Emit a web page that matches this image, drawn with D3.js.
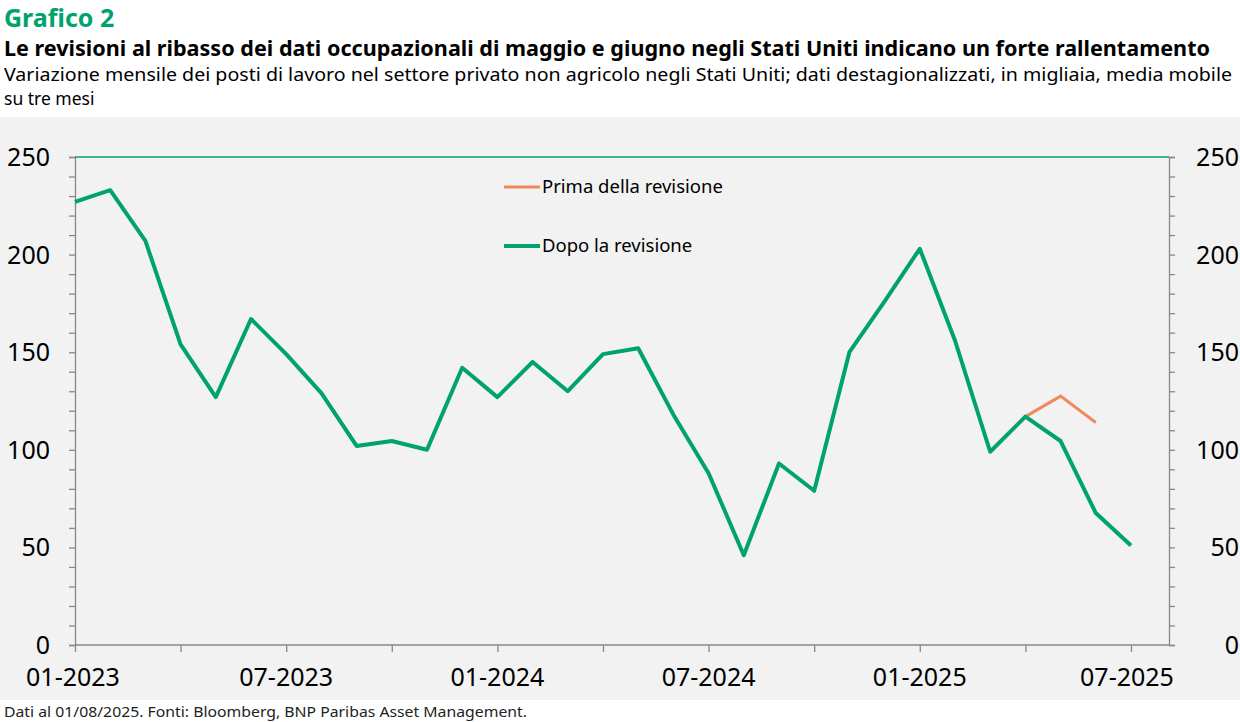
<!DOCTYPE html>
<html><head><meta charset="utf-8">
<script src="https://cdn.jsdelivr.net/npm/d3@7"></script>
<style>body{margin:0;background:#fff;font-family:"Noto Sans",sans-serif}</style>
</head><body><svg id="c" width="1240" height="722"></svg>
<script>
const months = d3.range(31); // 0 = 01-2023 ... 30 = 07-2025
const dopo = [227,233,207,154,127,167,149,129,102,104.5,100,142,127,145,130,149,152,118,88,46,93,79,150,176,203,156,99,117,104.5,67.6,51];
const primaIdx = [27,28,29];
const prima = [117,127.5,114];
const xTicks = [0,6,12,18,24,30];
const xLabels = ["01-2023","07-2023","01-2024","07-2024","01-2025","07-2025"];
const yTicks = [0,50,100,150,200,250];

const svg = d3.select("#c");
const L = 75, R = 1169, T = 157, B = 645;
const green = "#00a36c", orange = "#f08a5d";

svg.append("rect").attr("x",0).attr("y",117).attr("width",1240).attr("height",583).attr("fill","#f2f2f2");

const x = d3.scaleLinear().domain([0,31.08]).range([L,R]);
const y = d3.scaleLinear().domain([0,250]).range([B,T]);

svg.append("text").attr("x",4).attr("y",27).attr("fill",green).attr("font-size",25).attr("font-weight",700).text("Grafico 2");
svg.append("text").attr("x",4).attr("y",56).attr("font-size",20.5).attr("font-weight",700)
  .attr("textLength",1206).attr("lengthAdjust","spacingAndGlyphs")
  .text("Le revisioni al ribasso dei dati occupazionali di maggio e giugno negli Stati Uniti indicano un forte rallentamento");
svg.append("text").attr("x",4).attr("y",81).attr("font-size",17.5)
  .attr("textLength",1228).attr("lengthAdjust","spacingAndGlyphs")
  .text("Variazione mensile dei posti di lavoro nel settore privato non agricolo negli Stati Uniti; dati destagionalizzati, in migliaia, media mobile");
svg.append("text").attr("x",4).attr("y",105).attr("font-size",17.5).text("su tre mesi");
svg.append("text").attr("x",4).attr("y",717).attr("font-size",15).attr("fill","#222")
  .attr("textLength",523).attr("lengthAdjust","spacingAndGlyphs")
  .text("Dati al 01/08/2025. Fonti: Bloomberg, BNP Paribas Asset Management.");

// axes
const axc = "#888";
const minor = d3.range(0,251,10);
const ly = svg.append("g").attr("transform",`translate(${L},0)`)
  .call(d3.axisLeft(y).tickValues(minor).tickSize(6).tickFormat(""));
const ry = svg.append("g").attr("transform",`translate(${R},0)`)
  .call(d3.axisRight(y).tickValues(minor).tickSize(6).tickFormat(""));
const xa = svg.append("g").attr("transform",`translate(0,${B})`)
  .call(d3.axisBottom(x).tickValues(d3.range(0,31,3)).tickSize(7).tickFormat(""));
[ly,ry,xa].forEach(g=>{g.selectAll("path,line").attr("stroke",axc).attr("stroke-width",1.3);});
xa.select("path").attr("d",`M${L},0H${R}`);
svg.append("line").attr("x1",L).attr("x2",R).attr("y1",y(250)).attr("y2",y(250)).attr("stroke",green).attr("stroke-width",1.3);

svg.selectAll(".yl").data(yTicks).join("text").attr("x",50).attr("y",d=>y(d)+9)
  .attr("text-anchor","end").attr("font-size",25).text(d=>d);
svg.selectAll(".yr").data(yTicks).join("text").attr("x",1239).attr("y",d=>y(d)+9)
  .attr("text-anchor","end").attr("font-size",25).text(d=>d);
svg.selectAll(".xl").data(xTicks).join("text").attr("x",(d,i)=>x(d)+(i==0?-2:i==5?-4:0)).attr("y",686)
  .attr("text-anchor","middle").attr("font-size",25).text((d,i)=>xLabels[i]);

const line = d3.line().x(d=>x(d[0])).y(d=>y(d[1]));
svg.append("path").datum(primaIdx.map((m,i)=>[m,prima[i]])).attr("d",line)
  .attr("fill","none").attr("stroke",orange).attr("stroke-width",3);
svg.append("path").datum(months.map((m,i)=>[m,dopo[i]])).attr("d",line)
  .attr("fill","none").attr("stroke",green).attr("stroke-width",4).attr("stroke-linejoin","round");

// legend
const lg = [{t:"Prima della revisione",c:orange,w:3,y:187},{t:"Dopo la revisione",c:green,w:4,y:246}];
lg.forEach(d=>{
  svg.append("line").attr("x1",504).attr("x2",540).attr("y1",d.y).attr("y2",d.y).attr("stroke",d.c).attr("stroke-width",d.w);
  svg.append("text").attr("x",542).attr("y",d.y+6).attr("font-size",18.5).text(d.t);
});
</script></body></html>
